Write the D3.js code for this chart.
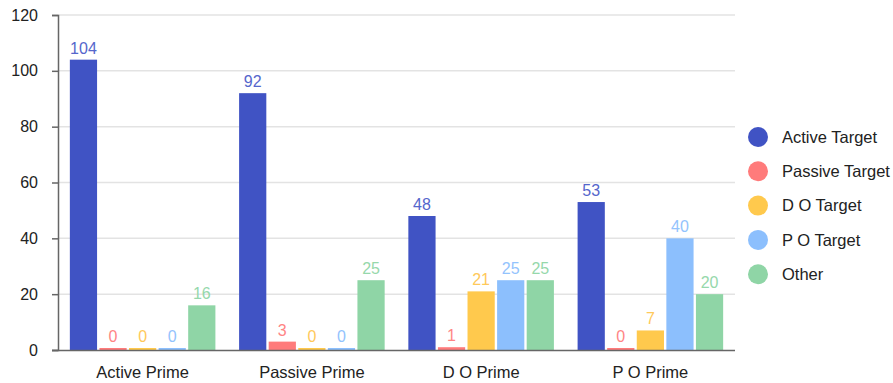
<!DOCTYPE html>
<html>
<head>
<meta charset="utf-8">
<script src="https://cdn.jsdelivr.net/npm/d3@7"></script>
<style>
  html, body { margin: 0; padding: 0; background: #fff; }
  svg { display: block; font-family: "Liberation Sans", Arial, sans-serif; }
</style>
</head>
<body>
<svg id="chart" width="893" height="383"></svg>
<script>
// Groups along the x axis
const categories = ["Active Prime", "Passive Prime", "D O Prime", "P O Prime"];
// One series per target type, values in category order
const seriesNames = ["Active Target", "Passive Target", "D O Target", "P O Target", "Other"];
const activeTarget  = [104, 92, 48, 53];
const passiveTarget = [0, 3, 1, 0];
const doTarget      = [0, 0, 21, 7];
const poTarget      = [0, 0, 25, 40];
const other         = [16, 25, 25, 20];
const yTicks = [0, 20, 40, 60, 80, 100, 120];

const seriesValues = [activeTarget, passiveTarget, doTarget, poTarget, other];
const colors = ["#4053c4", "#ff7b7b", "#ffc94d", "#8cbffd", "#8fd5a6"];
const labelColors = ["#5566cc", "#ff8585", "#ffc95a", "#93c3fd", "#96d8ab"];

const svg = d3.select("#chart");
const plotLeft = 58, plotRight = 735, plotTop = 15, plotBottom = 350;

const y = d3.scaleLinear().domain([0, 120]).range([plotBottom, plotTop]);
const x0 = d3.scaleBand().domain(categories).range([plotLeft, plotRight])
  .paddingInner(0.14).paddingOuter(0.07);
const x1 = d3.scaleBand().domain(seriesNames).range([0, x0.bandwidth()])
  .paddingInner(0.08);

// horizontal gridlines
svg.append("g").selectAll("line").data(yTicks.filter(d => d > 0)).join("line")
  .attr("x1", plotLeft).attr("x2", plotRight)
  .attr("y1", d => y(d)).attr("y2", d => y(d))
  .attr("stroke", "#e3e3e3").attr("stroke-width", 1.5);

// y axis
const yAxis = svg.append("g").attr("transform", `translate(${plotLeft},0)`)
  .call(d3.axisLeft(y).tickValues(yTicks).tickSize(6).tickPadding(14));
yAxis.select(".domain").attr("stroke", "#666").attr("stroke-width", 1.5);
yAxis.selectAll(".tick line").attr("stroke", "#666").attr("stroke-width", 1.5);
yAxis.selectAll(".tick text").attr("font-size", 16).attr("fill", "#222")
  .attr("font-family", "Liberation Sans, Arial, sans-serif");

// bars
const rows = categories.map((c, i) => ({ cat: c, vals: seriesNames.map((s, k) => ({ s, k, v: seriesValues[k][i] })) }));
const groups = svg.append("g").selectAll("g").data(rows).join("g")
  .attr("transform", d => `translate(${x0(d.cat)},0)`);

groups.selectAll("rect").data(d => d.vals).join("rect")
  .attr("x", d => x1(d.s))
  .attr("width", x1.bandwidth())
  .attr("y", d => Math.min(y(d.v), plotBottom - 2))
  .attr("height", d => Math.max(plotBottom - y(d.v), 2))
  .attr("fill", d => colors[d.k]);

groups.selectAll("text").data(d => d.vals).join("text")
  .attr("x", d => x1(d.s) + x1.bandwidth() / 2)
  .attr("y", d => Math.min(y(d.v), plotBottom - 2) - 6)
  .attr("text-anchor", "middle")
  .attr("font-size", 16)
  .attr("fill", d => labelColors[d.k])
  .text(d => d.v);

// x axis
const xAxis = svg.append("g").attr("transform", `translate(0,${plotBottom})`)
  .call(d3.axisBottom(x0).tickSize(0).tickPadding(16));
xAxis.select(".domain").attr("stroke", "#666").attr("stroke-width", 1.5)
  .attr("d", `M${plotLeft - 6},0.5H${plotRight}`);
xAxis.selectAll(".tick text").attr("font-size", 16.5).attr("fill", "#222")
  .attr("font-family", "Liberation Sans, Arial, sans-serif");

// legend
const legend = svg.append("g").selectAll("g").data(seriesNames).join("g")
  .attr("transform", (d, i) => `translate(758,${137 + i * 34.3})`);
legend.append("circle").attr("r", 10).attr("fill", (d, i) => colors[i]);
legend.append("text").attr("x", 24).attr("dy", "0.35em")
  .attr("font-size", 16.5).attr("fill", "#222").text(d => d);
</script>
</body>
</html>
